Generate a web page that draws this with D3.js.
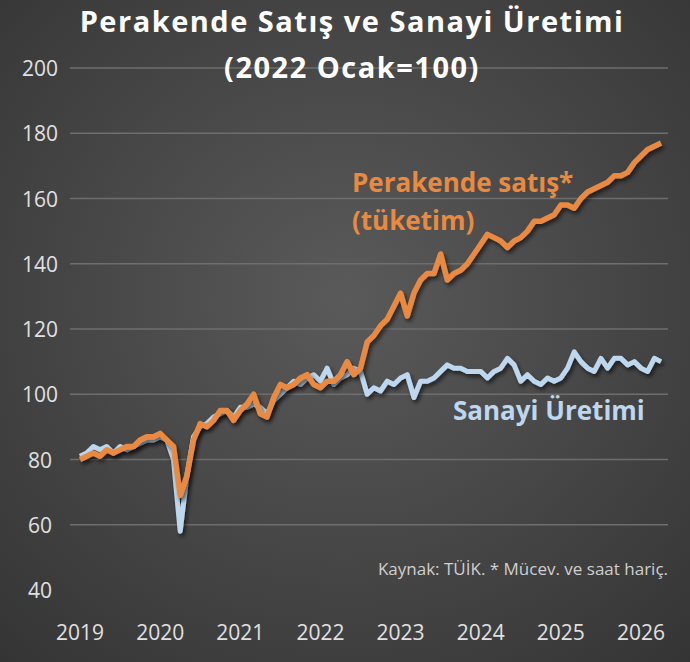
<!DOCTYPE html>
<html><head><meta charset="utf-8">
<script src="https://cdn.jsdelivr.net/npm/d3@7"></script>
<style>body{margin:0;background:#444}</style>
</head><body>
<div id="chart"></div>
<script>
const width = 690, height = 662;
const margin = {top: 68, right: 22, bottom: 72, left: 80};

const yearLabels = ["2019","2020","2021","2022","2023","2024","2025","2026"];
const yTicks = [40, 60, 80, 100, 120, 140, 160, 180, 200];

// monthly, Jan 2019 .. Apr 2026
const retail = [
  80,81,82,81,83,82,83,84,84,86,87,87,
  88,86,84,69,75,86,91,90,92,95,95,92,
  95,97,100,94,93,99,103,102,103,105,106,103,
  102,104,104,106,110,106,108,116,118,121,123,127,
  131,124,131,135,137,137,143,135,137,138,140,143,
  146,149,148,147,145,147,148,150,153,153,154,155,
  158,158,157,160,162,163,164,165,167,167,168,171,
  173,175,176,177
];
const industry = [
  81,82,84,83,84,82,84,83,84,85,86,86,
  87,86,80,58,75,87,90,91,93,94,95,93,
  96,96,97,96,94,98,100,102,104,103,105,106,
  104,108,103,105,106,108,107,100,102,101,104,103,
  105,106,99,104,104,105,107,109,108,108,107,107,
  107,105,107,108,111,109,104,106,104,103,105,104,
  105,108,113,110,108,107,111,108,111,111,109,110,
  108,107,111,110
];

const svg = d3.select("#chart").append("svg")
  .attr("width", width).attr("height", height);

const defs = svg.append("defs");
const grad = defs.append("radialGradient").attr("id", "bg")
  .attr("cx", "50%").attr("cy", "45%").attr("r", "75%");
grad.append("stop").attr("offset", "0%").attr("stop-color", "#5a5a5a");
grad.append("stop").attr("offset", "100%").attr("stop-color", "#343434");
const shadow = defs.append("filter").attr("id", "shadow")
  .attr("x", "-5%").attr("y", "-5%").attr("width", "110%").attr("height", "110%");
shadow.append("feDropShadow").attr("dx", 2).attr("dy", 3).attr("stdDeviation", 2)
  .attr("flood-color", "#000").attr("flood-opacity", 0.6);

svg.append("rect").attr("width", width).attr("height", height).attr("fill", "url(#bg)");

const x = d3.scaleLinear().domain([0, 84]).range([margin.left, 641]);
const y = d3.scaleLinear().domain([40, 200]).range([height - margin.bottom, margin.top]);

svg.append("g").selectAll("line").data(yTicks.slice(1)).join("line")
  .attr("x1", 70).attr("x2", width - margin.right)
  .attr("y1", d => y(d)).attr("y2", d => y(d))
  .attr("stroke", "#6e6e6e").attr("stroke-width", 1.5);

svg.append("g").selectAll("text").data(yTicks).join("text")
  .attr("x", 40).attr("y", d => y(d) + 8)
  .attr("text-anchor", "middle")
  .attr("fill", "#e0e0e0").attr("font-family", "Open Sans, sans-serif").attr("font-size", 21)
  .text(d => d);

svg.append("g").selectAll("text").data(yearLabels).join("text")
  .attr("x", (d, i) => x(i * 12)).attr("y", 640)
  .attr("text-anchor", "middle")
  .attr("fill", "#e0e0e0").attr("font-family", "Open Sans, sans-serif").attr("font-size", 21)
  .text(d => d);

const line = d3.line().x((d, i) => x(i)).y(d => y(d));

svg.append("path").datum(industry).attr("d", line)
  .attr("fill", "none").attr("stroke", "#bdd7ee").attr("stroke-width", 5)
  .attr("stroke-linejoin", "round").attr("filter", "url(#shadow)");
svg.append("path").datum(retail).attr("d", line)
  .attr("fill", "none").attr("stroke", "#e98a3f").attr("stroke-width", 5.5)
  .attr("stroke-linejoin", "round").attr("filter", "url(#shadow)");

const title = svg.append("text").attr("text-anchor", "middle")
  .attr("fill", "#fff").attr("font-family", "Open Sans, sans-serif")
  .attr("font-weight", "bold").attr("font-size", 29).attr("letter-spacing", 1.5);
title.append("tspan").attr("x", 352).attr("y", 32).text("Perakende Satış ve Sanayi Üretimi");
title.append("tspan").attr("x", 352).attr("y", 78).text("(2022 Ocak=100)");

const lab = svg.append("text").attr("fill", "#e98a3f")
  .attr("font-family", "Open Sans, sans-serif").attr("font-weight", "bold").attr("font-size", 26);
lab.append("tspan").attr("x", 352).attr("y", 192).text("Perakende satış*");
lab.append("tspan").attr("x", 352).attr("y", 230).text("(tüketim)");

svg.append("text").attr("x", 453).attr("y", 420)
  .attr("fill", "#bdd7ee").attr("font-family", "Open Sans, sans-serif")
  .attr("font-weight", "bold").attr("font-size", 26).text("Sanayi Üretimi");

svg.append("text").attr("x", 668).attr("y", 575).attr("text-anchor", "end")
  .attr("fill", "#cfcfcf").attr("font-family", "Open Sans, sans-serif").attr("font-size", 17)
  .text("Kaynak: TÜİK. * Mücev. ve saat hariç.");
</script>
</body></html>
